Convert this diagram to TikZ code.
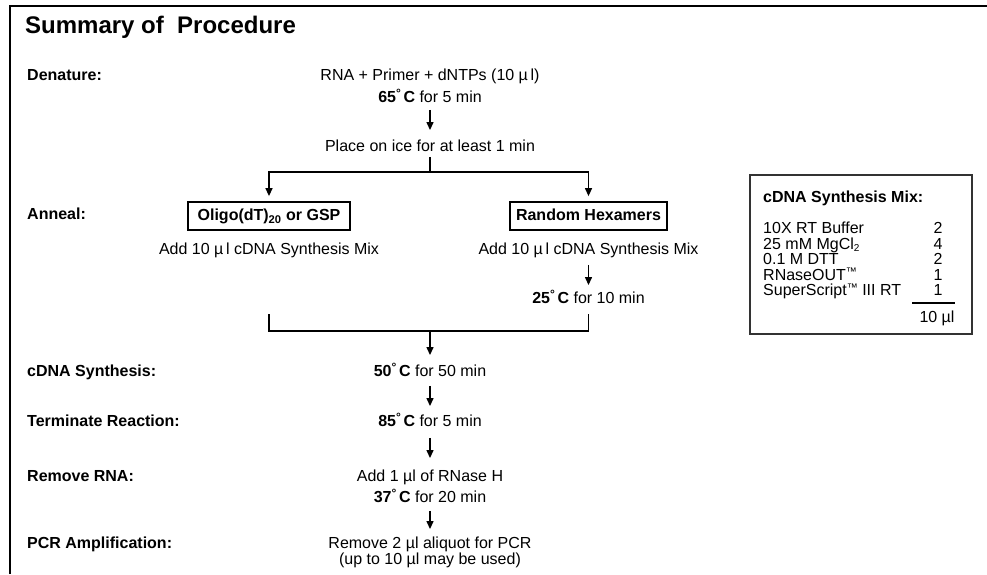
\documentclass[tikz,border=0pt]{standalone}
\usepackage{fontspec}
\setmainfont{Liberation Sans}
\usetikzlibrary{arrows.meta}
\newcommand\dg{\raisebox{5pt}{\fontsize{12}{12}\selectfont °}\,}
\newcommand\tmk{\raisebox{4.5pt}{\fontsize{11}{11}\selectfont ™}}
\newcommand\sbs[1]{\raisebox{-2.5pt}{\fontsize{10}{10}\selectfont #1}}
\begin{document}
\begin{tikzpicture}[x=1pt,y=-1pt,
  txt/.style={inner sep=0pt, text height=11.5pt, text depth=0pt, font=\fontsize{16}{19}\selectfont},
  bld/.style={txt, font=\fontsize{16}{19}\selectfont\bfseries},
  lbl/.style={bld, anchor=west},
  item/.style={txt, anchor=west},
  flow/.style={line width=1.3pt},
  arr/.style={flow, -{Triangle[width=7pt,length=8pt]}},
  primbox/.style={bld, draw, line width=1.8pt, minimum height=28pt, text depth=2pt}
]
\useasboundingbox (0,0) rectangle (987,574);
\fill[white] (0,0) rectangle (987,574);
\draw[line width=2.8pt] (10,574) -- (10,6) -- (987,6);

\node[anchor=west, inner sep=0pt, font=\fontsize{24}{28}\selectfont\bfseries] (title) at (25,27) {Summary of~ Procedure};

% left labels
\node[lbl] (ldenat) at (27,75) {Denature:};
\node[lbl] (lanneal) at (27,214) {Anneal:};
\node[lbl] (lsynth) at (27,371) {cDNA Synthesis:};
\node[lbl] (lterm) at (27,421) {Terminate Reaction:};
\node[lbl] (lremove) at (27,476) {Remove RNA:};
\node[lbl] (lpcr) at (27,543) {PCR Amplification:};

% flow
\node[txt] (rna) at (430,75) {RNA + Primer + dNTPs (10 µ\,l)};
\node[txt] (t65) at (430,97) {\textbf{65\dg C} for 5 min};
\node[txt] (ice) at (430,146) {Place on ice for at least 1 min};
\draw[arr, shorten <=7pt, shorten >=10pt] (t65) -- (ice);

\node[primbox, minimum width=162pt] (oligo) at (269,216) {Oligo(dT)\textsubscript{20} or GSP};
\node[primbox, minimum width=157pt] (random) at (588.5,216) {Random Hexamers};
\coordinate (split) at (430,172);
\draw[flow, shorten <=5pt] (ice) -- (split);
\draw[arr, shorten >=5pt] (split) -| (oligo);
\draw[arr, shorten >=5pt] (split) -| (random);

\node[txt] (addl) at (269,249) {Add 10 µ\,l cDNA Synthesis Mix};
\node[txt] (addr) at (588.5,249) {Add 10 µ\,l cDNA Synthesis Mix};
\node[txt] (t25) at (588.5,298) {\textbf{25\dg C} for 10 min};
\draw[arr, shorten <=10pt, shorten >=7pt] (addr) -- (t25);

\coordinate (ml) at (269,314);
\coordinate (mr) at (588.5,314);
\coordinate (merge) at (430,331);
\draw[flow] (ml) |- (merge) -| (mr);

\node[txt] (t50) at (430,371) {\textbf{50\dg C} for 50 min};
\draw[arr, shorten >=10pt] (merge) -- (t50);
\node[txt] (t85) at (430,421) {\textbf{85\dg C} for 5 min};
\draw[arr, shorten <=9pt, shorten >=9pt] (t50) -- (t85);
\node[txt] (addh) at (430,476) {Add 1 µl of RNase H};
\node[txt] (t37) at (430,497) {\textbf{37\dg C} for 20 min};
\draw[arr, shorten <=11pt, shorten >=12pt] (t85) -- (addh);
\node[txt] (rem) at (430,543) {Remove 2 µl aliquot for PCR};
\node[txt] (upto) at (430,559) {(up to 10 µl may be used)};
\draw[arr, shorten <=8pt, shorten >=8pt] (t37) -- (rem);

% mix box
\node[draw=black!80, line width=1.5pt, minimum width=222pt, minimum height=159pt, inner sep=0pt] (mixbox) at (861,254.5) {};
\node[lbl] (mixtitle) at (763,197) {cDNA Synthesis Mix:};
\node[item] (i1) at (763,228) {10X RT Buffer};
\node[item] (i2) at (763,243.5) {25 mM MgCl\sbs{2}};
\node[item] (i3) at (763,259) {0.1 M DTT};
\node[item] (i4) at (763,274.5) {RNaseOUT\tmk};
\node[item] (i5) at (763,290) {SuperScript\tmk\ III RT};
\node[txt] (n1) at (938,228) {2};
\node[txt] (n2) at (938,243.5) {4};
\node[txt] (n3) at (938,259) {2};
\node[txt] (n4) at (938,274.5) {1};
\node[txt] (n5) at (938,290) {1};
\coordinate (rulel) at (912,303);
\coordinate (ruler) at (955,303);
\draw[line width=1.1pt] (rulel) -- (ruler);
\node[txt] (tot) at (937,317) {10 µl};
\end{tikzpicture}
\end{document}
